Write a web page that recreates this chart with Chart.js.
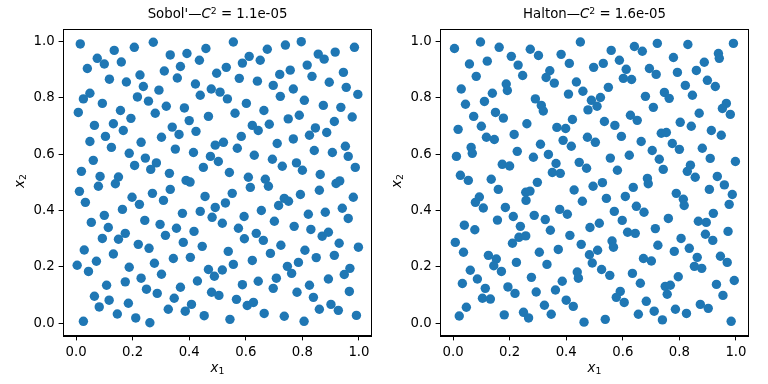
<!DOCTYPE html>
<html><head><meta charset="utf-8">
<script src="https://cdn.jsdelivr.net/npm/chart.js@4/dist/chart.umd.min.js"></script>
<style>
html,body{margin:0;padding:0;background:#fff;}
#wrap{position:relative;width:768px;height:384px;overflow:hidden;font-family:"DejaVu Sans",sans-serif;color:#000;}
canvas{position:absolute;top:0;}
.t{position:absolute;font-size:13.3px;line-height:16px;white-space:nowrap;transform:translateX(-50%);}
.yl{position:absolute;font-size:13.3px;line-height:16px;white-space:nowrap;transform:translate(-50%,-50%) rotate(-90deg);}
i{font-style:italic;}
sup{font-size:70%;vertical-align:0.45em;line-height:0;}
sub{font-size:70%;vertical-align:-0.25em;line-height:0;}
</style></head>
<body><div id="wrap">
<canvas id="c1" width="384" height="384" style="left:0"></canvas>
<canvas id="c2" width="384" height="384" style="left:384px"></canvas>
<div class="t" style="left:217.5px;top:6px">Sobol'—<i>C</i><sup>2</sup> = 1.1e-05</div>
<div class="t" style="left:594.5px;top:6px">Halton—<i>C</i><sup>2</sup> = 1.6e-05</div>
<div class="t" style="left:217.5px;top:360px"><i>x</i><sub>1</sub></div>
<div class="t" style="left:594.5px;top:360px"><i>x</i><sub>1</sub></div>
<div class="yl" style="left:19.5px;top:181px"><i>x</i><sub>2</sub></div>
<div class="yl" style="left:396.5px;top:181px"><i>x</i><sub>2</sub></div>
</div>
<script>
const tickValues = [0.0, 0.2, 0.4, 0.6, 0.8, 1.0];

const sobolX = [
0.015,0.273,0.135,0.206,0.075,0.100,0.160,0.333,0.392,0.459,0.436,0.040,0.369,0.312,0.497,0.118,0.226,0.178,0.358,0.238,0.422,0.478,0.293,0.049,0.026,0.217,0.256,0.439,0.093,0.157,0.008,0.383,0.319,0.280,0.194,0.400,0.468,0.065,0.132,0.167,0.340,0.364,0.424,0.104,0.302,0.049,0.230,0.492,0.125,0.351,0.188,0.415,0.245,0.475,0.061,0.284,0.207,0.264,0.450,0.019,0.330,0.085,0.150,0.389,0.403,0.139,
0.556,0.796,0.740,0.676,0.612,0.588,0.651,0.856,0.877,0.916,0.984,0.531,0.817,0.757,0.720,0.577,0.641,0.697,0.834,0.945,0.895,0.955,0.509,0.768,0.535,0.722,0.807,0.996,0.602,0.664,0.562,0.874,0.936,0.789,0.750,0.976,0.913,0.623,0.683,0.644,0.846,0.886,0.584,0.825,0.768,0.521,0.711,0.570,0.952,0.842,0.906,0.962,0.630,0.503,0.694,0.779,0.729,0.800,0.987,0.542,0.863,0.609,0.669,0.919,0.932,
0.012,0.079,0.333,0.033,0.198,0.224,0.270,0.309,0.456,0.492,0.481,0.164,0.100,0.376,0.439,0.054,0.114,0.243,0.297,0.355,0.417,0.174,0.093,0.150,0.316,0.379,0.446,0.220,0.258,0.029,0.132,0.344,0.404,0.072,0.004,0.044,0.277,0.188,0.302,0.468,0.489,0.230,0.174,0.429,0.108,0.249,0.369,0.065,0.287,0.479,0.117,0.347,0.082,0.185,0.408,0.326,0.146,0.386,0.211,0.453,0.026,0.261,
0.680,0.616,0.552,0.528,0.517,0.793,0.736,0.751,0.716,0.655,0.860,0.980,0.941,0.962,0.881,0.821,0.594,0.701,0.771,0.830,0.574,0.637,0.595,0.662,0.870,0.892,0.930,0.998,0.724,0.538,0.809,0.687,0.913,0.849,0.623,0.556,0.786,0.747,0.762,0.968,0.948,0.517,0.708,0.644,0.892,0.588,0.825,0.697,0.966,0.781,0.505,0.839,0.567,0.605,0.627,0.901,0.927,0.860,0.665,0.736,0.991,0.544,0.806
];
const sobolY = [
0.991,0.997,0.968,0.979,0.940,0.920,0.927,0.952,0.957,0.975,0.933,0.904,0.911,0.895,0.887,0.866,0.881,0.856,0.870,0.840,0.849,0.831,0.827,0.816,0.796,0.803,0.788,0.809,0.780,0.755,0.748,0.764,0.770,0.745,0.727,0.719,0.734,0.702,0.708,0.684,0.696,0.670,0.681,0.663,0.660,0.645,0.642,0.632,0.624,0.618,0.603,0.606,0.586,0.592,0.578,0.569,0.560,0.546,0.553,0.539,0.532,0.521,0.519,0.507,0.501,0.495,
0.998,0.999,0.987,0.972,0.947,0.923,0.933,0.955,0.937,0.962,0.979,0.908,0.916,0.898,0.883,0.869,0.859,0.844,0.876,0.890,0.855,0.837,0.820,0.831,0.796,0.805,0.791,0.812,0.780,0.755,0.745,0.773,0.766,0.738,0.725,0.732,0.716,0.702,0.706,0.684,0.693,0.677,0.663,0.667,0.654,0.642,0.638,0.621,0.628,0.613,0.606,0.592,0.596,0.574,0.582,0.569,0.557,0.543,0.553,0.535,0.528,0.518,0.511,0.496,0.505,
0.468,0.486,0.475,0.429,0.447,0.422,0.461,0.436,0.450,0.411,0.376,0.404,0.383,0.390,0.397,0.358,0.340,0.365,0.351,0.337,0.326,0.319,0.301,0.298,0.312,0.287,0.273,0.280,0.266,0.260,0.246,0.230,0.234,0.220,0.206,0.184,0.213,0.199,0.174,0.191,0.167,0.160,0.147,0.150,0.135,0.121,0.128,0.096,0.106,0.110,0.082,0.089,0.058,0.071,0.067,0.050,0.033,0.043,0.019,0.027,0.007,0.002,
0.486,0.482,0.461,0.427,0.355,0.457,0.443,0.433,0.418,0.400,0.472,0.447,0.408,0.372,0.394,0.387,0.379,0.362,0.344,0.333,0.337,0.319,0.300,0.294,0.309,0.323,0.284,0.270,0.277,0.255,0.259,0.248,0.241,0.233,0.223,0.209,0.216,0.202,0.177,0.195,0.173,0.189,0.160,0.149,0.157,0.137,0.135,0.124,0.113,0.110,0.099,0.092,0.085,0.063,0.074,0.067,0.046,0.050,0.035,0.025,0.028,0.014,0.007
];
const haltonX = [
0.005,0.097,0.163,0.058,0.121,0.206,0.273,0.302,0.230,0.246,0.082,0.382,0.411,0.450,0.497,0.342,0.329,0.358,0.436,0.188,0.192,0.029,0.139,0.111,0.044,0.408,0.459,0.489,0.477,0.291,0.312,0.319,0.150,0.178,0.073,0.018,0.100,0.261,0.216,0.118,0.146,0.367,0.398,0.422,0.475,0.389,0.418,0.309,0.064,0.068,0.012,0.227,0.284,0.337,0.174,0.200,0.364,0.446,0.472,0.351,0.379,0.026,0.054,0.135,0.298,
0.531,0.559,0.588,0.612,0.602,0.631,0.641,0.669,0.722,0.830,0.779,0.694,0.718,0.793,0.860,0.888,0.938,0.941,0.991,0.899,0.927,0.821,0.846,0.747,0.764,0.680,0.708,0.549,0.521,0.509,0.535,0.572,0.627,0.651,0.595,0.803,0.842,0.870,0.966,0.952,0.980,0.913,0.948,0.736,0.754,0.665,0.503,0.775,0.800,0.881,0.704,0.623,0.556,0.729,0.743,0.909,0.998,0.839,0.828,0.856,0.934,0.581,0.687,0.690,0.528,
0.160,0.257,0.272,0.258,0.428,0.495,0.457,0.093,0.079,0.107,0.185,0.213,0.157,0.287,0.326,0.377,0.404,0.344,0.413,0.238,0.233,0.257,0.210,0.040,0.077,0.008,0.037,0.125,0.153,0.144,0.224,0.305,0.372,0.332,0.484,0.453,0.482,0.492,0.061,0.171,0.086,0.033,0.114,0.104,0.132,0.194,0.219,0.277,0.294,0.386,0.362,0.439,0.443,0.400,0.425,0.323,0.347,0.249,0.267,0.181,0.047,0.022,0.463,
0.637,0.906,0.959,0.987,0.976,0.789,0.814,0.817,0.609,0.542,0.648,0.675,0.570,0.598,0.517,0.761,0.715,0.617,0.644,0.867,0.895,0.920,0.972,0.892,0.918,0.806,0.835,0.782,0.724,0.562,0.567,0.511,0.673,0.701,0.863,0.945,0.969,0.853,0.879,0.525,0.554,0.634,0.796,0.662,0.994,0.931,0.750,0.768,0.757,0.954,0.591,0.577,0.605,0.683,0.874,0.902,0.786,0.825,0.711,0.655,0.740,0.538,0.983
];
const haltonY = [
0.975,0.998,0.979,0.920,0.930,0.947,0.972,0.950,0.916,0.879,0.876,0.954,0.922,0.998,0.908,0.896,0.872,0.852,0.856,0.849,0.826,0.831,0.816,0.787,0.777,0.813,0.823,0.791,0.757,0.796,0.773,0.753,0.748,0.728,0.734,0.688,0.699,0.708,0.670,0.660,0.652,0.695,0.691,0.723,0.660,0.649,0.628,0.635,0.624,0.603,0.592,0.610,0.589,0.599,0.564,0.558,0.567,0.571,0.550,0.535,0.532,0.525,0.507,0.511,0.500,
0.922,0.968,0.933,0.901,0.869,0.865,0.982,0.965,0.993,0.989,0.943,0.904,0.883,0.890,0.897,0.926,0.957,0.940,0.993,0.862,0.840,0.844,0.809,0.819,0.798,0.805,0.766,0.837,0.801,0.770,0.716,0.702,0.738,0.720,0.663,0.713,0.699,0.745,0.780,0.762,0.741,0.684,0.667,0.674,0.677,0.645,0.642,0.638,0.617,0.621,0.613,0.596,0.586,0.582,0.546,0.585,0.574,0.561,0.539,0.518,0.521,0.543,0.514,0.495,0.499,
0.475,0.465,0.469,0.436,0.473,0.486,0.433,0.448,0.429,0.409,0.411,0.379,0.366,0.383,0.368,0.404,0.387,0.330,0.312,0.344,0.305,0.310,0.284,0.348,0.332,0.287,0.252,0.241,0.228,0.204,0.216,0.252,0.262,0.209,0.340,0.280,0.243,0.214,0.188,0.184,0.157,0.141,0.124,0.089,0.086,0.129,0.106,0.163,0.111,0.149,0.118,0.182,0.160,0.082,0.060,0.064,0.032,0.039,0.019,0.030,0.057,0.026,0.004,
0.482,0.475,0.491,0.457,0.422,0.461,0.440,0.418,0.450,0.443,0.415,0.394,0.397,0.365,0.355,0.372,0.336,0.323,0.319,0.362,0.358,0.390,0.326,0.316,0.294,0.301,0.266,0.255,0.277,0.292,0.270,0.259,0.230,0.221,0.234,0.238,0.216,0.202,0.195,0.191,0.170,0.177,0.165,0.142,0.152,0.138,0.131,0.135,0.103,0.099,0.113,0.092,0.074,0.078,0.067,0.053,0.050,0.035,0.043,0.032,0.012,0.014,0.007
];

const boxPlugin = {
  id: 'box',
  afterDraw(chart) {
    const a = chart.chartArea, ctx = chart.ctx;
    ctx.save();
    ctx.strokeStyle = '#000';
    ctx.lineWidth = 1;
    ctx.strokeRect(Math.round(a.left) + 0.5, Math.round(a.top) + 0.5, Math.round(a.right - a.left), Math.round(a.bottom - a.top));
    ctx.restore();
  }
};

function axisOpts(isX, fitSize) {
  return {
    type: 'linear',
    min: isX ? -0.045 : -0.044,
    max: isX ? 1.045 : 1.044,
    afterBuildTicks: s => { s.ticks = tickValues.map(v => ({ value: v })); },
    afterFit: s => { if (isX) s.height = fitSize; else s.width = fitSize; },
    ticks: {
      callback: v => Number(v).toFixed(1),
      font: { family: 'DejaVu Sans', size: 13.3 },
      color: '#000', padding: 4, maxRotation: 0, autoSkip: false
    },
    grid: { display: true, drawOnChartArea: false, drawTicks: true, tickLength: 4.7, tickWidth: 1, tickColor: '#000', color: '#000', lineWidth: 1 },
    border: { display: true, color: '#000', width: 1 }
  };
}

function makeChart(id, xs, ys, yAxisWidth, padRight) {
  const pts = xs.map((x, i) => ({ x: x, y: ys[i] }));
  return new Chart(document.getElementById(id), {
    type: 'scatter',
    data: { datasets: [{ data: pts, backgroundColor: '#1f77b4', borderColor: '#1f77b4', borderWidth: 0, pointRadius: 4.7, pointHoverRadius: 4.7 }] },
    options: {
      responsive: false, animation: false, devicePixelRatio: 1,
      layout: { padding: { top: 29, right: padRight, left: 0, bottom: 0 } },
      plugins: { legend: { display: false }, tooltip: { enabled: false }, title: { display: false } },
      scales: { x: axisOpts(true, 48.3), y: axisOpts(false, yAxisWidth) }
    },
    plugins: [boxPlugin]
  });
}

makeChart('c1', sobolX, sobolY, 63.3, 12.3);
makeChart('c2', haltonX, haltonY, 56.3, 19.3);
</script>
</body></html>
